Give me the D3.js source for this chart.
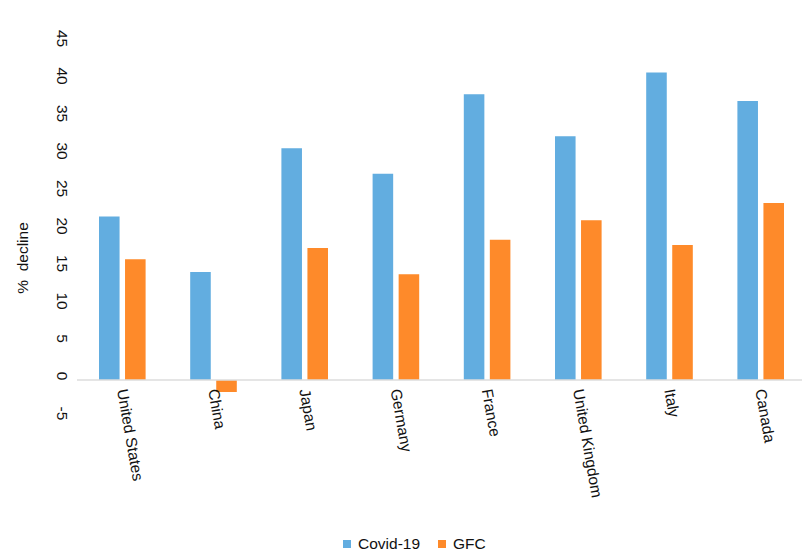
<!DOCTYPE html>
<html>
<head>
<meta charset="utf-8">
<script src="https://cdn.jsdelivr.net/npm/d3@7"></script>
<style>
  body { margin: 0; background: #fff; }
  text { font-family: "Liberation Sans", Arial, sans-serif; fill: #111; }
</style>
</head>
<body>
<script>
var countries = ["United States","China","Japan","Germany","France","United Kingdom","Italy","Canada"];
var series = ["Covid-19","GFC"];
var covid = [21.8, 14.4, 30.9, 27.5, 38.1, 32.5, 41.0, 37.2];
var gfc = [16.1, -1.6, 17.6, 14.1, 18.7, 21.3, 18.0, 23.6];
var yTicks = [-5, 0, 5, 10, 15, 20, 25, 30, 35, 40, 45];
var colors = ["#62ade0", "#fe8a2a"];

var width = 802, height = 556;

var svg = d3.select('body')
            .append('svg')
            .attr('width', width)
            .attr('height', height);

var x0 = d3.scaleBand()
           .domain(countries)
           .range([76.7, 806.3])
           .padding(0);

var x1 = d3.scaleBand()
           .domain(series)
           .range([22.3, 68.9])
           .paddingInner(0.21);

var y = d3.scaleLinear()
          .domain([-5, 45])
          .range([417.5, 42.5]);

var color = d3.scaleOrdinal().domain(series).range(colors);

var rows = countries.map(function(c, i){
  return {country: c, values: [{key: "Covid-19", v: covid[i]}, {key: "GFC", v: gfc[i]}]};
});

// bars
var groups = svg.selectAll('g.grp')
   .data(rows)
   .enter()
   .append('g')
   .attr('class','grp')
   .attr('transform', function(d){ return 'translate(' + x0(d.country) + ',0)'; });

groups.selectAll('rect')
   .data(function(d){ return d.values; })
   .enter()
   .append('rect')
   .attr('x', function(d){ return x1(d.key); })
   .attr('y', function(d){ return y(Math.max(0, d.v)); })
   .attr('width', x1.bandwidth())
   .attr('height', function(d){ return Math.abs(y(d.v) - y(0)); })
   .attr('fill', function(d){ return color(d.key); });

// zero line
svg.append('line')
   .attr('x1', 77).attr('x2', width)
   .attr('y1', y(0)).attr('y2', y(0))
   .attr('stroke', '#dddddd')
   .attr('stroke-width', 1.5);

// y tick labels (rotated)
svg.selectAll('text.ytick')
   .data(yTicks)
   .enter()
   .append('text')
   .attr('class','ytick')
   .attr('transform', function(d){ return 'translate(57,' + (y(d) - 4) + ') rotate(90)'; })
   .attr('text-anchor','middle')
   .style('font-size','15.5px')
   .text(function(d){ return d; });

// y title
svg.append('text')
   .attr('transform','translate(28,258) rotate(-90)')
   .attr('text-anchor','middle')
   .style('font-size','15.5px')
   .style('white-space','pre')
   .text('%\u00a0 decline');

// x labels
svg.selectAll('text.xlab')
   .data(countries)
   .enter()
   .append('text')
   .attr('class','xlab')
   .attr('transform', function(d){ return 'translate(' + (x0(d) + x0.bandwidth()/2) + ',389) rotate(80)'; })
   .attr('dy','0.35em')
   .attr('text-anchor','start')
   .style('font-size','15.5px')
   .text(function(d){ return d; });

// legend
var legX = [343, 438];
var leg = svg.selectAll('g.leg')
   .data(series)
   .enter()
   .append('g')
   .attr('class','leg')
   .attr('transform', function(d, i){ return 'translate(' + legX[i] + ',540)'; });

leg.append('rect')
   .attr('width', 8).attr('height', 8)
   .attr('fill', function(d){ return color(d); });

leg.append('text')
   .attr('x', 15).attr('y', 8.5)
   .style('font-size','15.5px')
   .text(function(d){ return d; });
</script>
</body>
</html>
